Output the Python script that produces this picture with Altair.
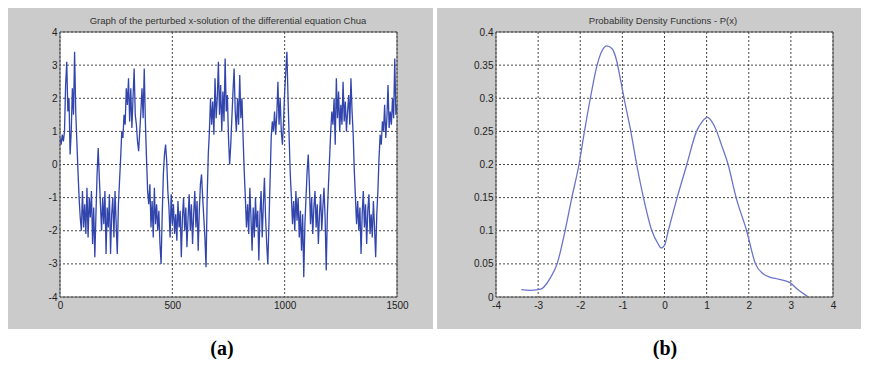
import altair as alt
import pandas as pd

# ---------------- data ----------------
t_values = list(range(0, 1501, 5))
x_values = [
    0.8, 0.6, 0.9, 0.7, 1.0, 2.4, 3.1, 1.6, 2.0, 0.3, 1.0, 2.3, 1.5, 3.4, 1.6, 0.7, -0.2, -1.0, -1.6, -2.0,
    -0.8, -1.9, -1.2, -2.1, -0.7, -2.2, -1.0, -1.6, -0.8, -2.4, -1.3, -2.8, -1.5, -0.3, 0.5, -0.4, -1.2, -2.0, -1.0, -1.8,
    -0.8, -2.7, -1.3, -1.9, -0.9, -2.7, -1.5, -1.0, -2.2, -0.8, -1.8, -2.7, -1.2, -0.5, 0.2, 1.0, 0.8, 1.5, 1.2, 2.3,
    1.8, 2.6, 1.3, 2.3, 1.1, 2.0, 2.9, 1.5, 1.2, 0.7, 0.4, 1.0, 1.6, 2.3, 1.4, 2.9, 1.3, 0.2, -0.8, -1.2,
    -0.6, -1.9, -1.1, -2.2, -0.7, -1.8, -1.2, -2.0, -1.4, -2.4, -3.0, -1.5, -0.3, 0.3, 0.6, 0.1, -0.8, -1.3, -2.2, -0.9,
    -1.8, -1.2, -2.1, -1.5, -2.3, -1.1, -1.9, -1.4, -2.8, -1.6, -1.0, -2.0, -1.3, -2.5, -1.6, -0.9, -2.0, -1.2, -2.4, -1.5,
    -0.8, -1.9, -1.1, -2.6, -1.4, -0.6, -0.3, -1.0, -1.6, -2.2, -3.1, -1.0, 0.3, 1.0, 2.0, 1.2, 1.9, 0.9, 2.6, 1.4,
    2.0, 3.1, 1.5, 2.4, 1.0, 2.2, 1.3, 3.2, 1.6, 2.1, 0.8, 0.0, 0.6, 1.4, 2.2, 2.9, 1.6, 1.0, 2.0, 1.2,
    2.7, 1.4, 2.0, 0.8, -0.2, -1.0, -1.9, -1.2, -2.1, -0.7, -1.6, -2.6, -1.3, -2.2, -1.0, -1.9, -1.4, -2.9, -1.5, -0.8,
    -2.2, -1.2, -0.4, -1.6, -2.4, -3.0, -1.8, -0.5, 0.8, 1.3, 1.0, 1.6, 0.9, 1.5, 2.5, 1.2, 2.0, 1.0, 0.6, 1.3,
    2.2, 2.8, 3.4, 2.0, 0.8, -0.3, -1.0, -1.8, -1.1, -2.0, -0.8, -1.7, -1.0, -2.2, -1.4, -2.6, -1.5, -3.4, -1.8, -1.0,
    -0.2, 0.3, -0.6, -1.8, -1.0, -2.1, -1.3, -0.8, -1.9, -1.2, -2.4, -1.5, -0.9, -2.0, -1.3, -0.7, -1.6, -3.2, -1.5, -0.6,
    0.2, 1.0, 1.6, 1.2, 2.0, 0.6, 2.6, 1.4, 2.2, 1.0, 1.8, 1.2, 2.5, 1.3, 1.9, 1.0, 1.6, 2.1, 1.2, 2.6,
    1.6, 0.9, -0.2, -1.0, -1.8, -1.1, -2.0, -1.3, -2.7, -1.5, -0.8, -1.9, -1.2, -2.4, -1.4, -0.9, -2.1, -1.5, -2.2, -1.1,
    -1.9, -2.8, -1.5, -0.8, 0.2, 0.9, 0.6, 1.3, 1.0, 1.8, 0.8, 1.4, 2.4, 1.1, 1.6, 1.2, 2.0, 1.4, 3.2, 1.5,
    1.8,
]

pdf_x = [-3.4, -3.2, -3.0, -2.9, -2.8, -2.7, -2.55, -2.36, -2.2, -2.03, -1.9, -1.76, -1.6, -1.48, -1.37,
         -1.25, -1.15, -1.05, -0.96, -0.8, -0.66, -0.5, -0.3, -0.15, -0.08, 0.0, 0.09, 0.3, 0.53, 0.76,
         0.9, 1.02, 1.12, 1.24, 1.35, 1.51, 1.7, 1.95, 2.16, 2.34, 2.5, 2.7, 2.97, 3.15, 3.39]
pdf_y = [0.011, 0.010, 0.011, 0.013, 0.02, 0.03, 0.05, 0.1, 0.15, 0.2, 0.25, 0.3, 0.35, 0.372, 0.379,
         0.375, 0.36, 0.33, 0.3, 0.25, 0.2, 0.15, 0.1, 0.08, 0.074, 0.078, 0.1, 0.15, 0.2, 0.25,
         0.265, 0.271, 0.265, 0.25, 0.23, 0.2, 0.15, 0.1, 0.05, 0.035, 0.03, 0.027, 0.022, 0.012, 0.001]

x_ticks_a = [0, 500, 1000, 1500]
y_ticks_a = [-4, -3, -2, -1, 0, 1, 2, 3, 4]
x_ticks_b = [-4, -3, -2, -1, 0, 1, 2, 3, 4]
y_ticks_b = [0, 0.05, 0.1, 0.15, 0.2, 0.25, 0.3, 0.35, 0.4]

title_a = "Graph of the perturbed x-solution of the differential equation Chua"
title_b = "Probability Density Functions - P(x)"
caption_a = "(a)"
caption_b = "(b)"

# ---------------- style ----------------
W, H = 337, 265
GREY = "#cbcbcb"
FONT = "Liberation Sans"


def axis(values):
    return alt.Axis(values=values, grid=False, ticks=False, domain=False, labelFont=FONT,
                    labelFontSize=10, labelColor="#222", labelPadding=3, labelFlush=False,
                    labelOverlap=False, labelBound=False, title=None, zindex=2,
                    labelExpr="'' + datum.value")


def rect(x1, x2, y1, y2, fill):
    return alt.Chart(alt.Data(values=[{"k": 1}])).mark_rect(fill=fill, clip=False).encode(
        x=alt.value(x1), x2=alt.value(x2), y=alt.value(y1), y2=alt.value(y2))


def frame():
    return alt.Chart(alt.Data(values=[{"k": 1}])).mark_rect(
        fill=None, stroke="#555", strokeWidth=1, clip=False
    ).encode(x=alt.value(0), x2=alt.value(W), y=alt.value(0), y2=alt.value(H))


def label(text, x, y, font, size, weight, color):
    return alt.Chart(alt.Data(values=[{"c": text}])).mark_text(
        font=font, fontWeight=weight, fontSize=size, color=color,
        baseline="middle", align="center", clip=False
    ).encode(x=alt.value(x), y=alt.value(y), text="c:N")


def grid(values, channel, field, domain):
    df = pd.DataFrame({field: values})
    sc = alt.Scale(domain=domain, nice=False, zero=False)
    if channel == "x":
        enc = {"x": alt.X(f"{field}:Q", scale=sc, axis=axis(values))}
    else:
        enc = {"y": alt.Y(f"{field}:Q", scale=sc, axis=axis(values))}
    return alt.Chart(df).mark_rule(color="#333", strokeDash=[2, 2], strokeWidth=1, opacity=0.9).encode(**enc)


df_a = pd.DataFrame({"t": t_values, "x": x_values})
df_b = pd.DataFrame({"x": pdf_x, "p": pdf_y})

line_a = alt.Chart(df_a).mark_line(color="#3145ac", strokeWidth=1.3, clip=True).encode(
    x=alt.X("t:Q", scale=alt.Scale(domain=[0, 1500], nice=False, zero=False), axis=axis(x_ticks_a)),
    y=alt.Y("x:Q", scale=alt.Scale(domain=[-4, 4], nice=False, zero=False), axis=axis(y_ticks_a)),
)

line_b = alt.Chart(df_b).mark_line(color="#6a75c9", strokeWidth=1.3, interpolate="monotone", clip=True).encode(
    x=alt.X("x:Q", scale=alt.Scale(domain=[-4, 4], nice=False, zero=False), axis=axis(x_ticks_b)),
    y=alt.Y("p:Q", scale=alt.Scale(domain=[0, 0.4], nice=False, zero=False), axis=axis(y_ticks_b)),
)

panel_a = alt.layer(
    rect(-52, 373, -24, 297, GREY),
    rect(0, W, 0, H, "white"),
    grid(x_ticks_a, "x", "t", [0, 1500]),
    grid(y_ticks_a, "y", "x", [-4, 4]),
    line_a,
    frame(),
    label(title_a, 168, -11, FONT, 9.5, "normal", "#333"),
    label(caption_a, 162, 317, "Liberation Serif", 20, "bold", "#000"),
).properties(width=W, height=H)

panel_b = alt.layer(
    rect(-59, 365, -24, 297, GREY),
    rect(0, W, 0, H, "white"),
    grid(x_ticks_b, "x", "x", [-4, 4]),
    grid(y_ticks_b, "y", "p", [0, 0.4]),
    line_b,
    frame(),
    label(title_b, 167, -11, FONT, 9.5, "normal", "#333"),
    label(caption_b, 169, 317, "Liberation Serif", 20, "bold", "#000"),
).properties(width=W, height=H)

chart = alt.hconcat(panel_a, panel_b, spacing=4).properties(
    padding=0, background="white"
).configure_view(stroke=None)

chart.save("out.html", embed_options={"renderer": "svg", "actions": False})
